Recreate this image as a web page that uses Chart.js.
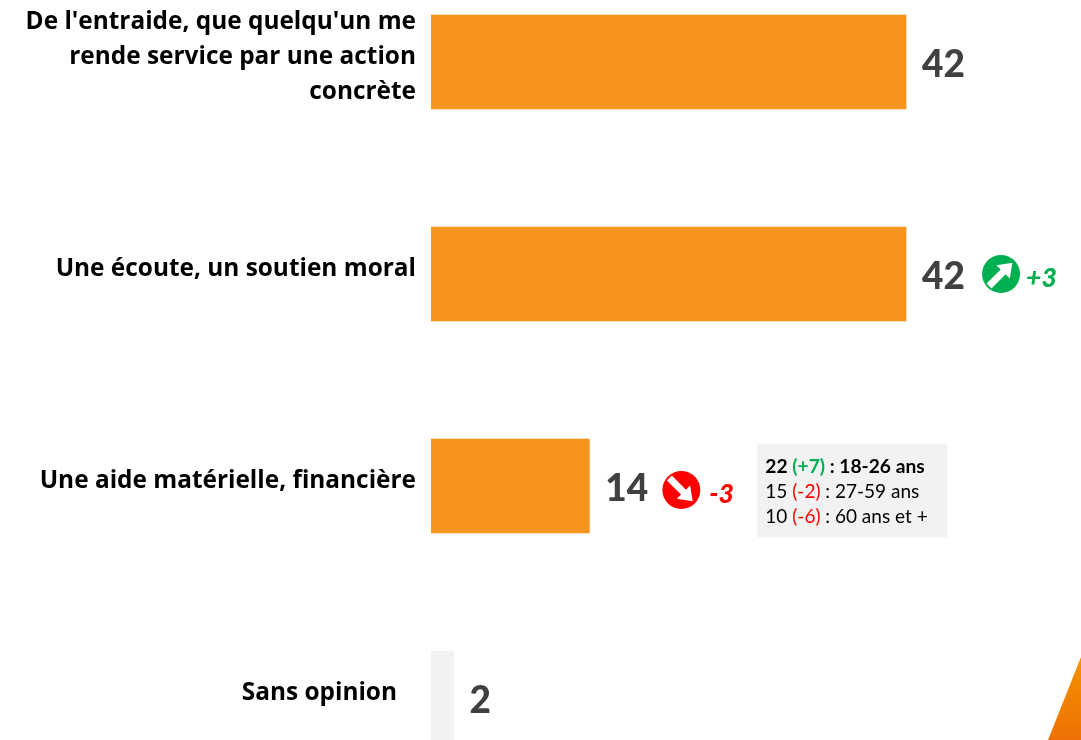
<!DOCTYPE html>
<html lang="fr">
<head>
<meta charset="utf-8">
<title>Graphique</title>
<style>
html,body{margin:0;padding:0;background:#fff;overflow:hidden;width:1081px;height:740px}
#wrap{position:absolute;left:0;top:-44px;width:1081px;height:848px}
</style>
<script src="https://cdn.jsdelivr.net/npm/chart.js@4"></script>
</head>
<body>
<div id="wrap"><canvas id="c" width="1081" height="848"></canvas></div>
<script>
const categories = [
  ["De l'entraide, que quelqu'un me", "rende service par une action", "concrète"],
  "Une écoute, un soutien moral",
  "Une aide matérielle, financière",
  "Sans opinion\u00A0\u00A0\u00A0"
];
const values = [42, 42, 14, 2];
const barColors = ["#f7941d", "#f7941d", "#f7941d", "#f2f2f2"];
const deltas = [null, "+3", "-3", null];
const boxLines = [
  {bold:true,  parts:["22 ", "(+7)", " : 18-26 ans"], color:"#00b050"},
  {bold:false, parts:["15 ", "(-2)", " : 27-59 ans"], color:"#ff0000"},
  {bold:false, parts:["10 ", "(-6)", " : 60 ans et +"], color:"#ff0000"}
];

const overlay = {
  id: "overlay",
  afterDatasetsDraw(chart) {
    const ctx = chart.ctx, xs = chart.scales.x, ys = chart.scales.y;
    ctx.save();
    ctx.textBaseline = "middle";
    values.forEach((v, i) => {
      const x = xs.getPixelForValue(v) + 16;
      const y = ys.getPixelForTick(i) + 3;
      ctx.font = "900 37px Lato";
      ctx.fillStyle = "#404040";
      ctx.textAlign = "left";
      ctx.fillText(String(v), x, y);
      if (deltas[i]) {
        const up = deltas[i][0] === "+";
        const col = up ? "#00b050" : "#ff0000";
        const cx = x + (up ? 79 : 76), cy = ys.getPixelForTick(i) + (up ? 0 : 4), r = 19;
        ctx.beginPath(); ctx.arc(cx, cy, r, 0, Math.PI * 2); ctx.fillStyle = col; ctx.fill();
        ctx.save();
        ctx.translate(cx, cy);
        ctx.rotate(up ? -Math.PI / 4 : Math.PI / 4);
        ctx.beginPath();
        ctx.moveTo(-17, -3.5); ctx.lineTo(3, -3.5); ctx.lineTo(3, -9.5);
        ctx.lineTo(16, 0);
        ctx.lineTo(3, 9.5); ctx.lineTo(3, 3.5); ctx.lineTo(-17, 3.5);
        ctx.closePath();
        ctx.fillStyle = "#fff"; ctx.fill();
        ctx.restore();
        ctx.font = "italic 900 26.5px Lato";
        ctx.fillStyle = col;
        ctx.fillText(deltas[i], cx + (up ? 25 : 28), cy + 4);
      }
    });
    const bx = xs.getPixelForValue(values[2]) + 168, by = ys.getPixelForTick(2) - 42;
    ctx.fillStyle = "#f2f2f2";
    ctx.fillRect(bx, by, 190, 93);
    boxLines.forEach((ln, k) => {
      ctx.font = (ln.bold ? "bold 19.2px" : "19px") + " Lato";
      let tx = bx + 8;
      const ty = by + 23 + k * 25;
      ln.parts.forEach((p, j) => {
        ctx.fillStyle = j === 1 ? ln.color : "#000";
        ctx.fillText(p, tx, ty);
        tx += ctx.measureText(p).width;
      });
    });
    const g = ctx.createLinearGradient(0, 44 + 657, 0, 44 + 740);
    g.addColorStop(0, "#f59300"); g.addColorStop(1, "#ee7004");
    ctx.fillStyle = g;
    ctx.beginPath();
    ctx.moveTo(1081, 44 + 657); ctx.lineTo(1048, 44 + 740); ctx.lineTo(1081, 44 + 740);
    ctx.closePath(); ctx.fill();
    ctx.restore();
  }
};

new Chart(document.getElementById("c"), {
  type: "bar",
  data: {
    labels: categories,
    datasets: [{ data: values, backgroundColor: barColors, barThickness: 94, borderWidth: 0 }]
  },
  options: {
    indexAxis: "y",
    responsive: false,
    animation: false,
    layout: { padding: 0, autoPadding: false },
    plugins: { legend: { display: false }, tooltip: { enabled: false } },
    scales: {
      x: { display: false, min: 0, max: 57.47 },
      y: {
        afterFit(s) { s.width = 431; s.paddingTop = 0; s.paddingBottom = 0; },
        border: { display: false },
        grid: { display: false, drawTicks: false },
        ticks: {
          autoSkip: false,
          padding: 15,
          labelOffset: -4.5,
          color: "#000",
          font: { family: "'Open Sans'", weight: "bold", size: 24.4, lineHeight: "35px" }
        }
      }
    }
  },
  plugins: [overlay]
});
</script>
</body>
</html>
